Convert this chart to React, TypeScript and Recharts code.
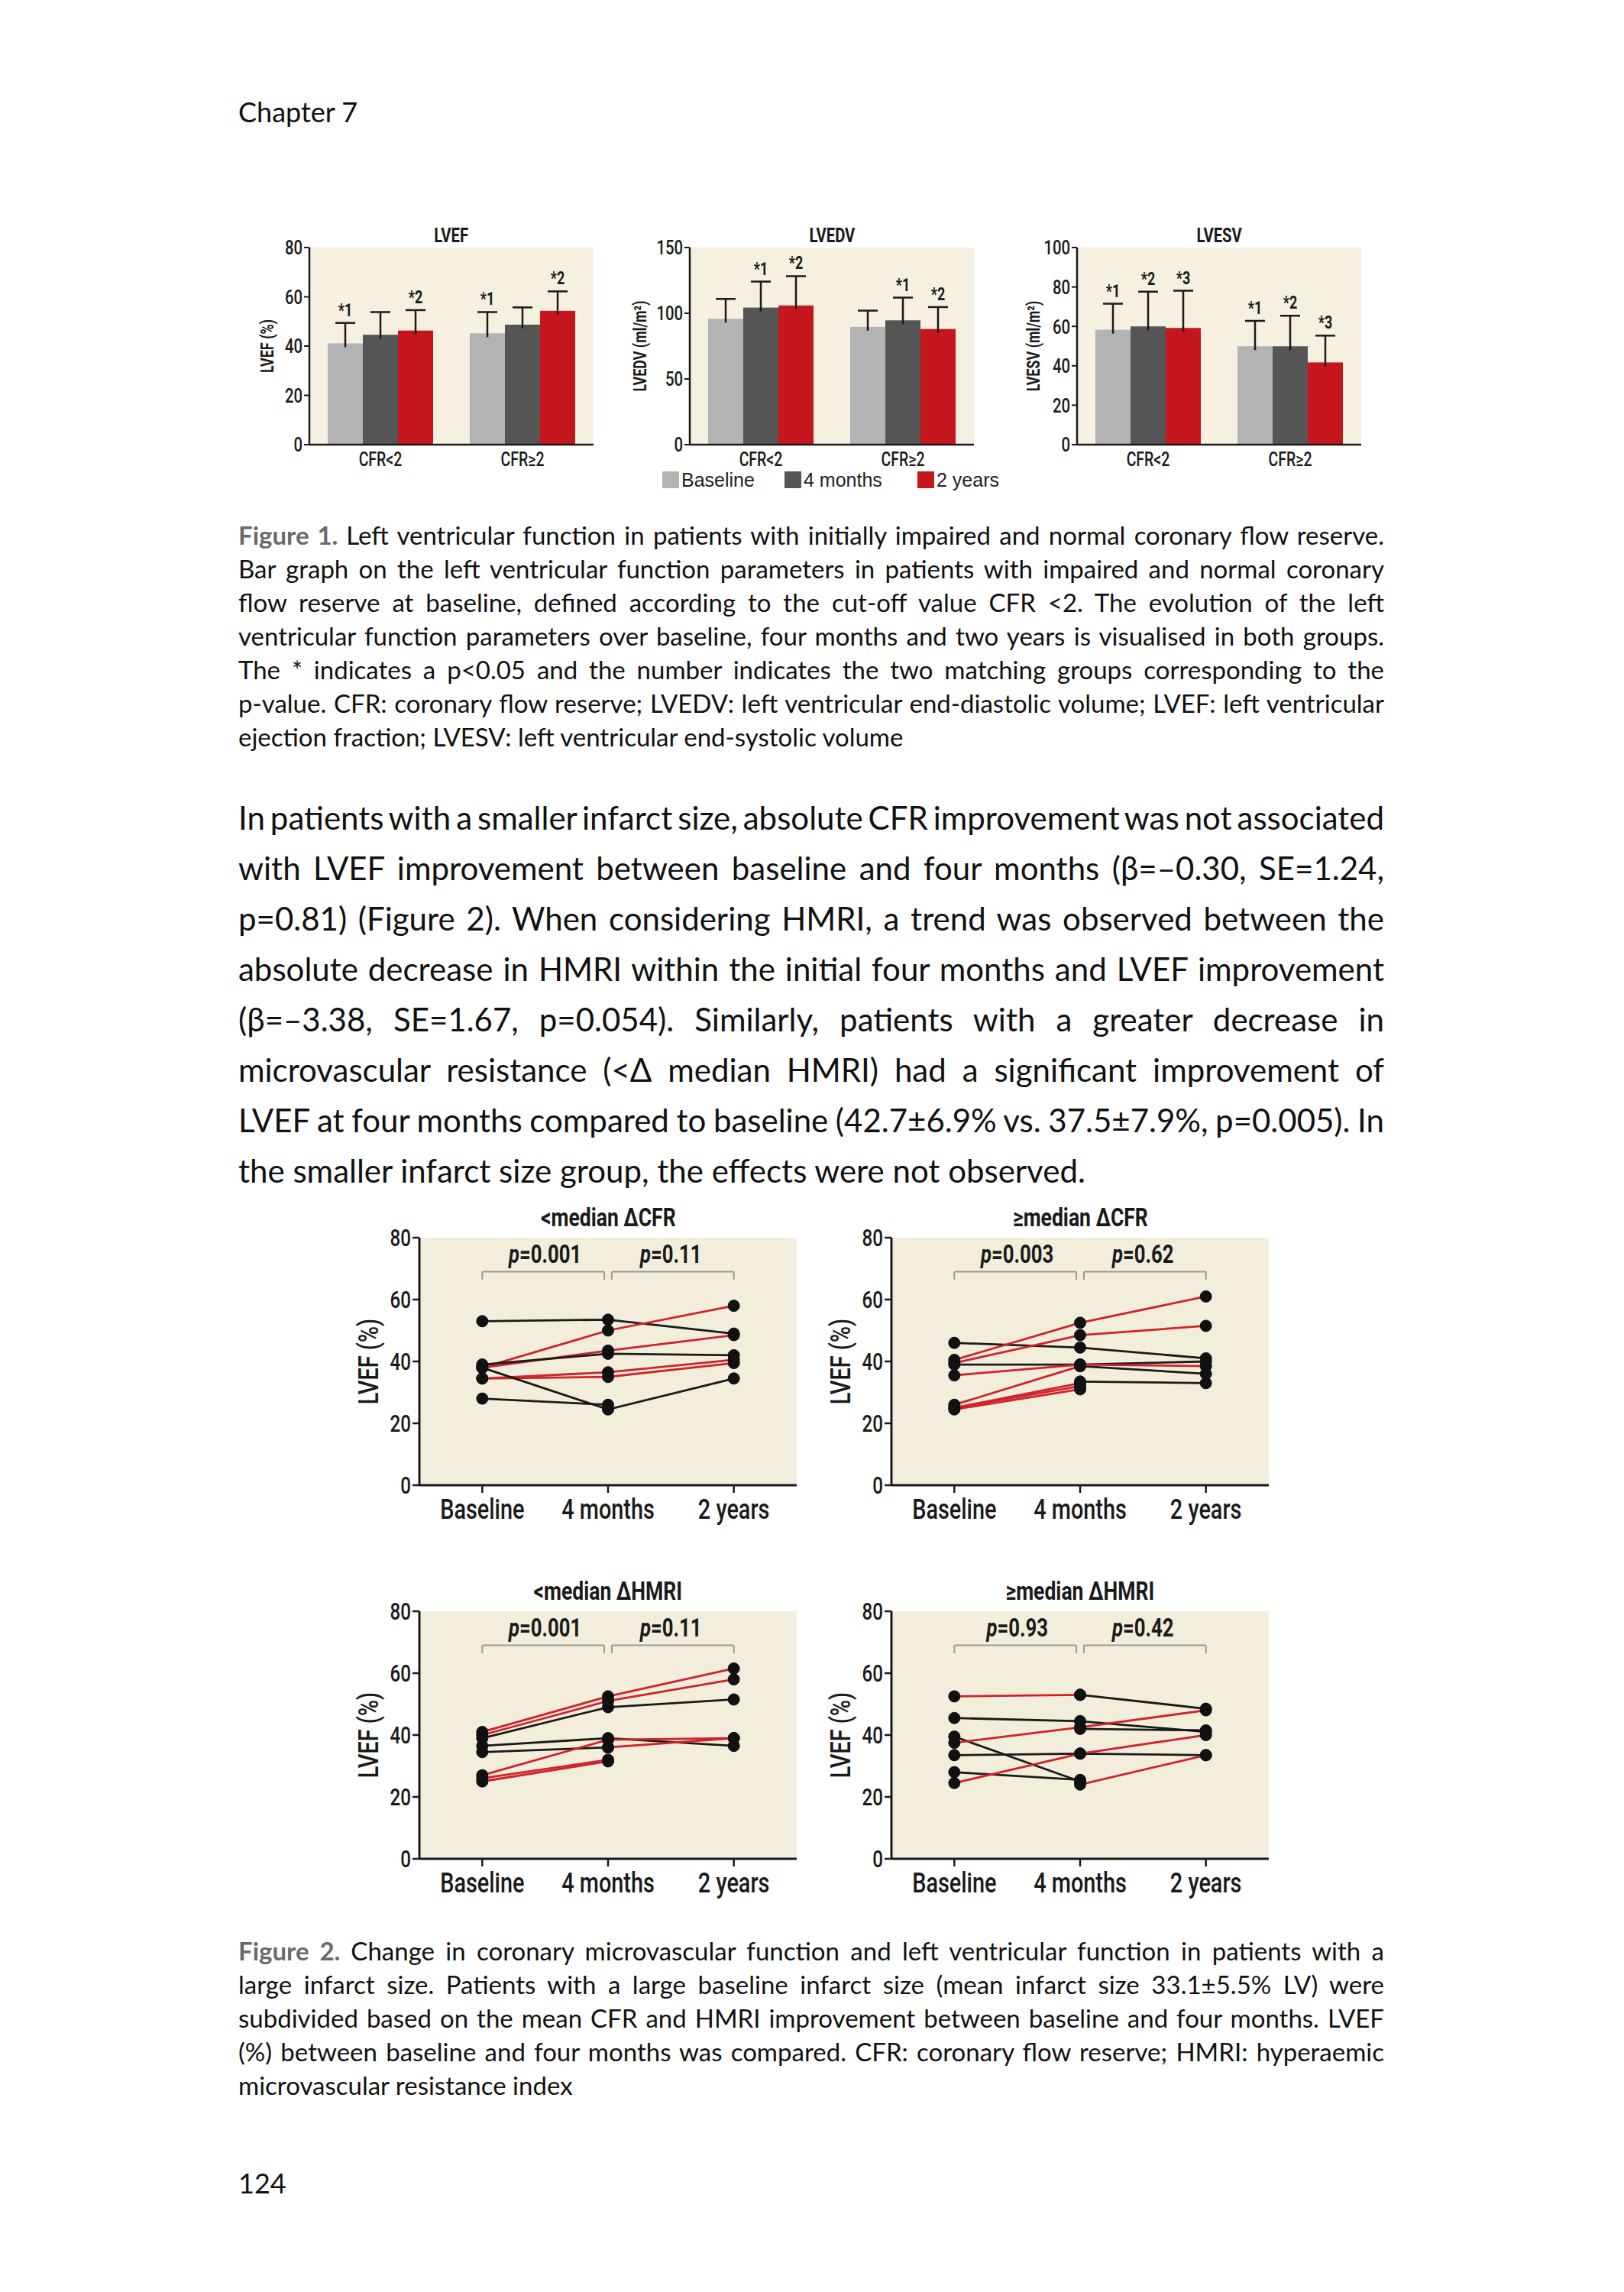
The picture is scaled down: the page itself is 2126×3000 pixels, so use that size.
import React from "react"
import {
  BarChart,
  Bar,
  LineChart,
  Line,
  XAxis,
  YAxis,
  CartesianGrid,
  ReferenceLine,
  ReferenceDot
} from "recharts"

const NARROW = "Roboto, 'Liberation Sans', sans-serif"
const BODY = "Lato, 'Open Sans', sans-serif"
const INK = "#1a1a1a"
const RED = "#d0222b"
const BLACK = "#1a1a1a"
const SQUEEZE = 0.78

// ---- Figure 1 : bar charts ----
const groups = ["CFR<2", "CFR≥2"]
const periods = ["Baseline", "4 months", "2 years"]
const barColors = ["#b3b3b3", "#555555", "#c4161c"]

const lvefBaseline = [41.1, 45.2]
const lvefMonths4 = [44.6, 48.7]
const lvefYears2 = [46.3, 54.3]
const lvefBaselineErr = [8.3, 8.6]
const lvefMonths4Err = [9.2, 7.0]
const lvefYears2Err = [8.3, 7.9]
const lvefStars = [["*1", "*1"], ["", ""], ["*2", "*2"]]

const lvedvBaseline = [95.8, 89.6]
const lvedvMonths4 = [104.3, 94.6]
const lvedvYears2 = [105.9, 88.0]
const lvedvBaselineErr = [15.1, 12.4]
const lvedvMonths4Err = [19.8, 17.3]
const lvedvYears2Err = [22.3, 16.7]
const lvedvStars = [["", ""], ["*1", "*1"], ["*2", "*2"]]

const lvesvBaseline = [58.3, 49.9]
const lvesvMonths4 = [60.0, 49.9]
const lvesvYears2 = [59.2, 41.7]
const lvesvBaselineErr = [13.2, 12.9]
const lvesvMonths4Err = [17.6, 15.5]
const lvesvYears2Err = [18.9, 13.6]
const lvesvStars = [["*1", "*1"], ["*2", "*2"], ["*3", "*3"]]

// ---- Figure 2 : individual LVEF (%) per patient, [baseline, 4 months, 2 years] ----
const cfrLowLines = [
  [53, 53.5, 49],
  [38, 50, 58],
  [38, 43.5, 48.5],
  [39, 42.5, 42],
  [34.5, 36.5, 40.5],
  [34.5, 35, 39.5],
  [38, 24.5, 34.5],
  [28, 26, null]
]
const cfrLowColors = [BLACK, RED, RED, BLACK, RED, RED, BLACK, BLACK]

const cfrHighLines = [
  [46, 44.5, 41],
  [39, 39, 40],
  [null, 38.5, 36],
  [null, 33.5, 33],
  [40.5, 52.5, 61],
  [39.5, 48.5, 51.5],
  [35.5, 39, 38.5],
  [26, 38.5, null],
  [25, 33, null],
  [25, 32, null],
  [24.5, 31, null]
]
const cfrHighColors = [BLACK, BLACK, BLACK, BLACK, RED, RED, RED, RED, RED, RED, RED]

const hmriLowLines = [
  [39, 49, 51.5],
  [36.5, 39, 36.5],
  [34.5, 36, null],
  [41, 52.5, 61.5],
  [40, 51, 58],
  [null, 36, 39],
  [27, 38.5, 39],
  [26, 32, null],
  [25, 31.5, null]
]
const hmriLowColors = [BLACK, BLACK, BLACK, RED, RED, RED, RED, RED, RED]

const hmriHighLines = [
  [null, 53, 48.5],
  [45.5, 44.5, 41],
  [39.5, 25, null],
  [28, 25.5, null],
  [33.5, 34, 33.5],
  [null, 42, 41.5],
  [52.5, 53, null],
  [37.5, 42.5, 48],
  [24.5, 34, 40],
  [null, 24, 33.5]
]
const hmriHighColors = [BLACK, BLACK, BLACK, BLACK, BLACK, BLACK, RED, RED, RED, RED]

const cfrLowP = ["0.001", "0.11"]
const cfrHighP = ["0.003", "0.62"]
const hmriLowP = ["0.001", "0.11"]
const hmriHighP = ["0.93", "0.42"]

// ---- page text ----
const fig1Caption = [
  "Left ventricular function in patients with initially impaired and normal coronary flow reserve.",
  "Bar graph on the left ventricular function parameters in patients with impaired and normal coronary",
  "flow reserve at baseline, defined according to the cut-off value CFR <2. The evolution of the left",
  "ventricular function parameters over baseline, four months and two years is visualised in both groups.",
  "The * indicates a p<0.05 and the number indicates the two matching groups corresponding to the",
  "p-value. CFR: coronary flow reserve; LVEDV: left ventricular end-diastolic volume; LVEF: left ventricular",
  "ejection fraction; LVESV: left ventricular end-systolic volume"
]
const bodyLines = [
  "In patients with a smaller infarct size, absolute CFR improvement was not associated",
  "with LVEF improvement between baseline and four months (β=–0.30, SE=1.24,",
  "p=0.81) (Figure 2). When considering HMRI, a trend was observed between the",
  "absolute decrease in HMRI within the initial four months and LVEF improvement",
  "(β=–3.38, SE=1.67, p=0.054). Similarly, patients with a greater decrease in",
  "microvascular resistance (<Δ median HMRI) had a significant improvement of",
  "LVEF at four months compared to baseline (42.7±6.9% vs. 37.5±7.9%, p=0.005). In",
  "the smaller infarct size group, the effects were not observed."
]
const fig2Caption = [
  "Change in coronary microvascular function and left ventricular function in patients with a",
  "large infarct size. Patients with a large baseline infarct size (mean infarct size 33.1±5.5% LV) were",
  "subdivided based on the mean CFR and HMRI improvement between baseline and four months. LVEF",
  "(%) between baseline and four months was compared. CFR: coronary flow reserve; HMRI: hyperaemic",
  "microvascular resistance index"
]

function barRows(means: number[][], errs: number[][], stars: string[][]) {
  return groups.map((g, i) => ({
    group: g,
    v0: means[0][i], v1: means[1][i], v2: means[2][i],
    e0: errs[0][i], e1: errs[1][i], e2: errs[2][i],
    s0: stars[0][i], s1: stars[1][i], s2: stars[2][i]
  }))
}

function lineRows(lines: (number | null)[][]) {
  return periods.map((_, i) => {
    const row: any = { t: i }
    lines.forEach((l, j) => { row[`s${j}`] = l[i] })
    return row
  })
}

// condensed tick text (the figure uses a narrow typeface)
function condTick(size: number, fmt: (v: any) => string, vertical: boolean, bold = false) {
  return (props: any) => {
    const { x, y, payload, textAnchor } = props
    return (
      <g transform={`translate(${x},${y}) scale(${SQUEEZE},1)`}>
        <text textAnchor={textAnchor} dy={vertical ? "0.36em" : "0.8em"} fontFamily={NARROW}
          fontWeight={bold ? 700 : 500} fontSize={size} fill={INK}>{fmt(payload.value)}</text>
      </g>
    )
  }
}

// bar with one-sided error whisker and the "*n" mark above it
function makeBarShape(k: number) {
  return (props: any) => {
    const { x, y, width, height, fill, payload } = props
    const v = payload[`v${k}`]
    const err = payload[`e${k}`]
    const star = payload[`s${k}`]
    const top = y - (err * height) / v
    const cx = x + width / 2
    return (
      <g>
        <rect x={x} y={y} width={width} height={height} fill={fill} />
        <line x1={cx} x2={cx} y1={top} y2={y + 5} stroke={INK} strokeWidth={2.5} />
        <line x1={cx - 13} x2={cx + 13} y1={top} y2={top} stroke={INK} strokeWidth={2.5} />
        {star ? (
          <g transform={`translate(${cx},${top - 9}) scale(${SQUEEZE},1)`}>
            <text textAnchor="middle" fontFamily={NARROW} fontWeight={700} fontSize={23}
              fill={INK}>{star}</text>
          </g>
        ) : null}
      </g>
    )
  }
}

function yLabel(text: string, dx: number, size: number, weight = 500) {
  return {
    content: (p: any) => {
      const vb = p.viewBox
      const cy = vb.y + vb.height / 2
      return (
        <text transform={`translate(${vb.x + dx},${cy}) rotate(-90) scale(${SQUEEZE},1)`}
          textAnchor="middle" dominantBaseline="central" fontFamily={NARROW} fontWeight={weight}
          fontSize={size} fill={INK}>{text}</text>
      )
    }
  }
}

const titleStyle = (size: number): React.CSSProperties => ({
  display: "inline-block", transform: `scaleX(${SQUEEZE})`, fontFamily: NARROW,
  fontWeight: 700, fontSize: size, color: INK
})

type BarPanelProps = {
  left: number
  axisW: number
  title: string
  rows: any[]
  domain: [number, number]
  ticks: number[]
  label: string
  labelDx: number
}

function BarPanel({ left, axisW, title, rows, domain, ticks, label, labelDx }: BarPanelProps) {
  const w = axisW + 372 + 23
  return (
    <div style={{ position: "absolute", left, top: 290, width: w, height: 340 }}>
      <div style={{
        position: "absolute", left: axisW, width: 372, top: 4, height: 28, lineHeight: "28px",
        textAlign: "center"
      }}><span style={titleStyle(26)}>{title}</span></div>
      <BarChart width={w} height={340} data={rows}
        margin={{ top: 34, right: 23, bottom: 8, left: 0 }} barGap={0} barCategoryGap={24}>
        <CartesianGrid fill="#f5f0df" stroke="none" horizontal={false} vertical={false} />
        <XAxis dataKey="group" interval={0} tickLine={false} height={40}
          axisLine={{ stroke: INK, strokeWidth: 2.5 }}
          tick={condTick(25, v => v, false)} />
        <YAxis width={axisW} domain={domain} ticks={ticks} tickSize={7}
          axisLine={{ stroke: INK, strokeWidth: 2.5 }} tickLine={{ stroke: INK, strokeWidth: 2 }}
          tick={condTick(26, v => String(v), true)}
          label={yLabel(label, labelDx, 23, 700)} />
        {[0, 1, 2].map(k => (
          <Bar key={k} dataKey={`v${k}`} fill={barColors[k]} isAnimationActive={false}
            shape={makeBarShape(k)} />
        ))}
      </BarChart>
    </div>
  )
}

const PLabel = (props: any) => {
  const vb = props.viewBox
  const cx = vb.x + (vb.width || 0) / 2
  const cy = vb.y + (vb.height || 0) / 2
  return (
    <g transform={`translate(${cx},${cy}) scale(${SQUEEZE},1)`}>
      <text textAnchor="middle" dominantBaseline="central" fontFamily={NARROW}
        fontWeight={700} fontSize={33} fill={INK}>
        <tspan fontStyle="italic">p</tspan>={props.pv}
      </text>
    </g>
  )
}

type LinePanelProps = {
  left: number
  top: number
  title: string
  lines: (number | null)[][]
  colors: string[]
  pValues: string[]
}

function LinePanel({ left, top, title, lines, colors, pValues }: LinePanelProps) {
  const rows = lineRows(lines)
  const bracket = { stroke: "#9a9a9a", strokeWidth: 2 }
  const hi = 69
  const lo = 66.4
  return (
    <div style={{ position: "absolute", left, top, width: 600, height: 450 }}>
      <div style={{
        position: "absolute", left: 89, width: 494, top: 5, height: 36, lineHeight: "36px",
        textAlign: "center"
      }}><span style={titleStyle(34)}>{title}</span></div>
      <LineChart width={600} height={450} data={rows}
        margin={{ top: 50, right: 17, bottom: 16, left: 0 }}>
        <CartesianGrid fill="#f3eedb" stroke="none" horizontal={false} vertical={false} />
        <XAxis type="number" dataKey="t" domain={[-0.5, 2.5]} ticks={[0, 1, 2]}
          height={60} tickSize={10} tickMargin={4}
          axisLine={{ stroke: INK, strokeWidth: 3 }} tickLine={{ stroke: INK, strokeWidth: 2.5 }}
          tick={condTick(37, (v: number) => periods[v], false)} />
        <YAxis width={89} domain={[0, 80]} ticks={[0, 20, 40, 60, 80]} tickSize={9}
          axisLine={{ stroke: INK, strokeWidth: 3 }} tickLine={{ stroke: INK, strokeWidth: 2.5 }}
          tick={condTick(31, v => String(v), true)}
          label={yLabel("LVEF (%)", 22, 37)} />
        <ReferenceLine segment={[{ x: 0, y: lo }, { x: 0, y: hi }]} {...bracket} />
        <ReferenceLine segment={[{ x: 0, y: hi }, { x: 0.97, y: hi }]} {...bracket} />
        <ReferenceLine segment={[{ x: 0.97, y: hi }, { x: 0.97, y: lo }]} {...bracket} />
        <ReferenceLine segment={[{ x: 1.03, y: lo }, { x: 1.03, y: hi }]} {...bracket} />
        <ReferenceLine segment={[{ x: 1.03, y: hi }, { x: 2, y: hi }]} {...bracket} />
        <ReferenceLine segment={[{ x: 2, y: hi }, { x: 2, y: lo }]} {...bracket} />
        <ReferenceDot x={0.5} y={74.5} r={0} fill="none" stroke="none"
          label={{ content: (p: any) => <PLabel {...p} pv={pValues[0]} /> }} />
        <ReferenceDot x={1.5} y={74.5} r={0} fill="none" stroke="none"
          label={{ content: (p: any) => <PLabel {...p} pv={pValues[1]} /> }} />
        {lines.map((_, j) => (
          <Line key={j} type="linear" dataKey={`s${j}`} stroke={colors[j]} strokeWidth={2.8}
            dot={{ r: 7.5, fill: "#111", stroke: "#111", strokeWidth: 1 }} activeDot={false}
            isAnimationActive={false} />
        ))}
      </LineChart>
    </div>
  )
}

function TextBlock({ top, lines, size, lh, label, squeeze }: {
  top: number; lines: string[]; size: number; lh: number; label?: string; squeeze: number[]
}) {
  return (
    <div style={{ position: "absolute", left: 312, top, width: 1500, fontFamily: BODY,
      fontSize: size, lineHeight: `${lh}px`, color: "#111" }}>
      {lines.map((l, i) => {
        const last = i === lines.length - 1
        return (
          <div key={i} style={{
            textAlign: "justify",
            textAlignLast: last ? "left" : "justify",
            wordSpacing: last ? 0 : squeeze[i] ?? -8
          }}>
            {i === 0 && label ? (
              <span style={{ fontWeight: 700, color: "#6a6a6a" }}>{label} </span>
            ) : null}
            {l}
          </div>
        )
      })}
    </div>
  )
}

export default function App() {
  const lvefRows = barRows([lvefBaseline, lvefMonths4, lvefYears2],
    [lvefBaselineErr, lvefMonths4Err, lvefYears2Err], lvefStars)
  const lvedvRows = barRows([lvedvBaseline, lvedvMonths4, lvedvYears2],
    [lvedvBaselineErr, lvedvMonths4Err, lvedvYears2Err], lvedvStars)
  const lvesvRows = barRows([lvesvBaseline, lvesvMonths4, lvesvYears2],
    [lvesvBaselineErr, lvesvMonths4Err, lvesvYears2Err], lvesvStars)
  const legendLeft = [867, 1027, 1201]

  return (
    <div style={{ position: "absolute", left: 0, top: 0, width: 2126, height: 3000, background: "#fff" }}>
      <div style={{ position: "absolute", left: 312, top: 124, fontFamily: BODY, fontSize: 36,
        lineHeight: "44px", color: "#111" }}>Chapter 7</div>

      <BarPanel left={320} axisW={85} title="LVEF" rows={lvefRows} domain={[0, 80]}
        ticks={[0, 20, 40, 60, 80]} label="LVEF (%)" labelDx={30} />
      <BarPanel left={813} axisW={90} title="LVEDV" rows={lvedvRows} domain={[0, 150]}
        ticks={[0, 50, 100, 150]} label="LVEDV (ml/m²)" labelDx={25} />
      <BarPanel left={1325} axisW={85} title="LVESV" rows={lvesvRows} domain={[0, 100]}
        ticks={[0, 20, 40, 60, 80, 100]} label="LVESV (ml/m²)" labelDx={28} />

      {periods.map((p, i) => (
        <div key={p} style={{ position: "absolute", left: legendLeft[i], top: 614, height: 28,
          display: "flex", alignItems: "center", fontFamily: "'Liberation Sans', Arial, sans-serif",
          fontSize: 25, color: "#222" }}>
          <span style={{ display: "inline-block", width: 22, height: 22, background: barColors[i],
            marginRight: 3 }} />
          {p}
        </div>
      ))}

      <TextBlock top={678} lines={fig1Caption} size={33} lh={44} label="Figure 1." squeeze={[]} />
      <TextBlock top={1037} lines={bodyLines} size={42} lh={66} squeeze={[-14, -8, -8, -8, -8, -8, -12]} />

      <LinePanel left={460} top={1570} title="<median ΔCFR" lines={cfrLowLines}
        colors={cfrLowColors} pValues={cfrLowP} />
      <LinePanel left={1078} top={1570} title="≥median ΔCFR" lines={cfrHighLines}
        colors={cfrHighColors} pValues={cfrHighP} />
      <LinePanel left={460} top={2059} title="<median ΔHMRI" lines={hmriLowLines}
        colors={hmriLowColors} pValues={hmriLowP} />
      <LinePanel left={1078} top={2059} title="≥median ΔHMRI" lines={hmriHighLines}
        colors={hmriHighColors} pValues={hmriHighP} />

      <TextBlock top={2531} lines={fig2Caption} size={33} lh={44} label="Figure 2." squeeze={[]} />

      <div style={{ position: "absolute", left: 312, top: 2835, fontFamily: BODY, fontSize: 36,
        lineHeight: "44px", color: "#111" }}>124</div>
    </div>
  )
}
